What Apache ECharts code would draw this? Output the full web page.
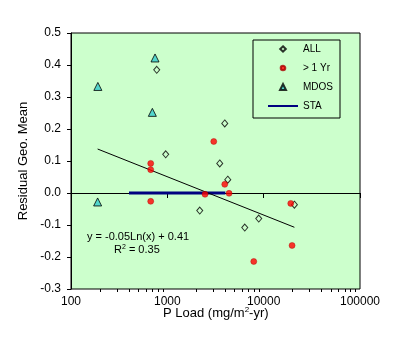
<!DOCTYPE html>
<html>
<head>
<meta charset="utf-8">
<script src="https://cdn.jsdelivr.net/npm/echarts@6/dist/echarts.min.js"></script>
<style>html,body{margin:0;padding:0;background:#fff;}#c{width:409px;height:337px;}</style>
</head>
<body>
<div id="c"></div>
<script>
// ---- data ----
var allX = [962, 776, 3945, 3500, 4240, 2170, 6365, 8890, 20840];
var allY = [0.121, 0.385, 0.2175, 0.0925, 0.0416, -0.055, -0.108, -0.080, -0.0366];
var gtX = [672, 672, 672, 3033, 3945, 2462, 4374, 19100, 19720, 7890];
var gtY = [0.0925, 0.073, -0.026, 0.161, 0.027, -0.004, -0.001, -0.0325, -0.164, -0.214];
var mdosX = [190, 745, 699, 189];
var mdosY = [0.333, 0.422, 0.252, -0.028];
var staX = [400, 4000];
var staY = [0, 0];
var seriesNames = ['ALL', '> 1 Yr', 'MDOS', 'STA'];
var trendA = -0.052, trendB = 0.41;
var xMinorValues = [200,300,400,500,600,700,800,900,2000,3000,4000,5000,6000,7000,8000,9000,20000,30000,40000,50000,60000,70000,80000,90000];
var equationText = 'y = -0.05Ln(x) + 0.41';
var r2Text = '0.35';

function pairs(xs, ys){ return xs.map(function(x,i){ return [x, ys[i]]; }); }
var allXs = allX.concat(gtX, mdosX);
var tMin = Math.min.apply(null, allXs), tMax = Math.max.apply(null, allXs);
var trendData = [tMin, tMax].map(function(x){ return [x, trendA*Math.log(x)+trendB]; });

// legend icons: small symbol centred in a 30x7 box
var ICON_DIAMOND = 'path://M0,0M30,7M15,0.8L17.8,3.5L15,6.2L12.2,3.5Z';
var ICON_CIRCLE = 'path://M0,0M30,7M15,1.2A2.3,2.3,0,1,1,15,5.8A2.3,2.3,0,1,1,15,1.2Z';
var ICON_TRI = 'path://M0,0M30,7M15,0.5L18,6.5L12,6.5Z';

var FONT = 'Liberation Sans, Arial, sans-serif';
var chart = echarts.init(document.getElementById('c'), null, {renderer:'canvas'});
chart.setOption({
  animation: false,
  backgroundColor: '#ffffff',
  grid: {left: 71, top: 33, right: 49, bottom: 48, show: true, backgroundColor: '#CCFFCC', borderColor: '#000', borderWidth: 1},
  xAxis: [{
    type: 'log', logBase: 10, min: 100, max: 100000,
    axisLine: {onZero: true, lineStyle: {color: '#000', width: 1}},
    axisTick: {show: true, length: 5, lineStyle: {color: '#000'}},
    axisLabel: {color: '#000', fontSize: 12, fontFamily: FONT, margin: 7, formatter: function(v){ return String(Math.round(v)); }},
    splitLine: {show: false}
  }, {
    type: 'log', logBase: 10, min: 100, max: 100000, gridIndex: 0,
    position: 'bottom',
    axisLine: {show: false, onZero: true},
    axisTick: {show: true, length: 3, customValues: xMinorValues, lineStyle: {color: '#000'}},
    axisLabel: {show: false},
    splitLine: {show: false}
  }],
  yAxis: {
    type: 'value', min: -0.3, max: 0.5, interval: 0.1,
    name: 'Residual Geo. Mean', nameLocation: 'middle', nameGap: 38,
    nameTextStyle: {color: '#000', fontSize: 13, fontFamily: FONT},
    axisLine: {show: true, lineStyle: {color: '#000'}},
    axisTick: {show: true, length: 4, lineStyle: {color: '#000'}},
    axisLabel: {color: '#000', fontSize: 12, fontFamily: FONT, margin: 10, formatter: function(v){ return v.toFixed(1); }},
    splitLine: {show: false}
  },
  legend: {
    orient: 'vertical', left: 253, top: 40,
    padding: [3, 7, 6, 14], itemGap: 7, itemWidth: 30, itemHeight: 7,
    borderColor: '#000', borderWidth: 1, backgroundColor: '#CCFFCC',
    textStyle: {color: '#000', fontSize: 10, lineHeight: 12, fontFamily: FONT},
    data: [
      {name: seriesNames[0], icon: ICON_DIAMOND},
      {name: seriesNames[1], icon: ICON_CIRCLE},
      {name: seriesNames[2], icon: ICON_TRI},
      {name: seriesNames[3], itemStyle: {color: 'rgba(0,0,0,0)', borderColor: 'rgba(0,0,0,0)', borderWidth: 0}}
    ]
  },
  graphic: [
    {type: 'text', left: 87, top: 231, style: {text: equationText, fill: '#000', font: '11px ' + FONT}},
    {type: 'text', left: 114, top: 244, style: {text: '{a|R}{s|2}{a| = ' + r2Text + '}', rich: {a: {fontSize: 11, fontFamily: FONT, color: '#000'}, s: {fontSize: 7, fontFamily: FONT, color: '#000', padding: [0,0,5,0]}}}},
    {type: 'text', left: 163, top: 306, style: {text: '{a|P Load (mg/m}{s|2}{a|-yr)}', rich: {a: {fontSize: 13, fontFamily: FONT, color: '#000'}, s: {fontSize: 8, fontFamily: FONT, color: '#000', padding: [0,0,6,0]}}}}
  ],
  series: [
    {name: seriesNames[3], type: 'line', data: pairs(staX, staY), symbol: 'none', lineStyle: {color: '#000080', width: 3}, itemStyle: {color: '#000080'}, z: 2},
    {name: 'trend', type: 'line', data: trendData, symbol: 'none', lineStyle: {color: '#000', width: 1}, z: 2, silent: true},
    {name: seriesNames[0], type: 'scatter', data: pairs(allX, allY), symbol: 'diamond', symbolSize: [6, 7], itemStyle: {color: 'rgba(0,0,0,0)', borderColor: '#000', borderWidth: 1}, z: 3},
    {name: seriesNames[1], type: 'scatter', data: pairs(gtX, gtY), symbol: 'circle', symbolSize: 6, itemStyle: {color: '#FF0000', borderColor: '#AA0000', borderWidth: 0.5}, z: 4},
    {name: seriesNames[2], type: 'scatter', data: pairs(mdosX, mdosY), symbol: 'triangle', symbolSize: [8, 8], itemStyle: {color: '#33CCCC', borderColor: '#000', borderWidth: 1}, z: 5}
  ]
});
</script>
</body>
</html>
